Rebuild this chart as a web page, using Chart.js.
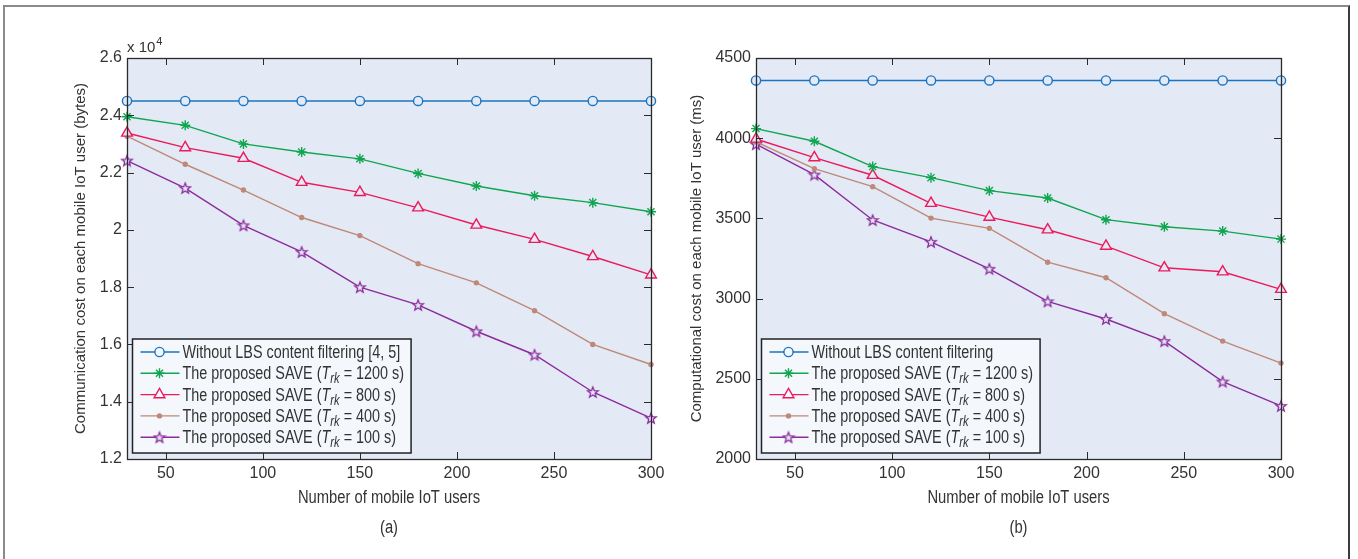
<!DOCTYPE html>
<html>
<head>
<meta charset="utf-8">
<script src="https://cdn.jsdelivr.net/npm/chart.js@4.4.1/dist/chart.umd.min.js"></script>
<style>
    body { margin: 0; background: #fff; }
    #wrap { position: relative; width: 1358px; height: 559px; overflow: hidden; background: #fff; }
    #frame {
        position: absolute; left: 3px; top: 5px; width: 1343px; height: 620px;
        border-left: 2px solid #8a8a8a; border-top: 2px solid #8a8a8a; border-right: 2px solid #3c3c3c;
    }
    #chartA { position: absolute; left: 0; top: 0; }
    #chartB { position: absolute; left: 680px; top: 0; }
</style>
</head>
<body>
<div id="wrap">
    <div id="frame"></div>
    <canvas id="chartA" width="680" height="559"></canvas>
    <canvas id="chartB" width="678" height="559"></canvas>
</div>
<script>
// x축: 모바일 IoT 사용자 수
const xValues = [30, 60, 90, 120, 150, 180, 210, 240, 270, 300];
const xTicks = [50, 100, 150, 200, 250, 300];

// (a) 통신 비용 (x 10^4 bytes)
const commTicks = [1.2, 1.4, 1.6, 1.8, 2.0, 2.2, 2.4, 2.6];
const commNoFilter = [2.45, 2.45, 2.45, 2.45, 2.45, 2.45, 2.45, 2.45, 2.45, 2.45];
const commSave1200 = [2.395, 2.365, 2.3, 2.272, 2.248, 2.197, 2.153, 2.119, 2.095, 2.063];
const commSave800 = [2.338, 2.287, 2.25, 2.166, 2.131, 2.077, 2.017, 1.967, 1.907, 1.843];
const commSave400 = [2.327, 2.229, 2.139, 2.043, 1.98, 1.882, 1.815, 1.718, 1.6, 1.53];
const commSave100 = [2.242, 2.146, 2.016, 1.923, 1.8, 1.738, 1.646, 1.564, 1.434, 1.343];

// (b) 계산 비용 (ms)
const compTicks = [2000, 2500, 3000, 3500, 4000, 4500];
const compNoFilter = [4360, 4360, 4360, 4360, 4360, 4360, 4360, 4360, 4360, 4360];
const compSave1200 = [4060, 3981, 3823, 3754, 3673, 3627, 3492, 3448, 3421, 3371];
const compSave800 = [3995, 3879, 3769, 3594, 3508, 3429, 3327, 3192, 3167, 3058];
const compSave400 = [3977, 3810, 3698, 3502, 3438, 3227, 3130, 2906, 2735, 2598];
const compSave100 = [3963, 3773, 3490, 3354, 3186, 2983, 2873, 2735, 2483, 2331];

const trkValues = [1200, 800, 400, 100];
const labelsA = ['Without LBS content filtering [4, 5]'].concat(trkValues.map((t) => 'The proposed SAVE (T_rk = ' + t + ' s)'));
const labelsB = ['Without LBS content filtering'].concat(trkValues.map((t) => 'The proposed SAVE (T_rk = ' + t + ' s)'));

const FONT = "'Liberation Sans', Arial, sans-serif";
const NARROW_LEGEND = 0.8;
const NARROW_TITLE = 0.82;
const PLOT_BG = '#e3eaf5';
const LEGEND_BG = '#f4f7fb';
const TEXT = '#333';

// 보라색 별 마커 (5각 별)
function makeStar(color, fill) {
    const c = document.createElement('canvas');
    c.width = 14;
    c.height = 14;
    const g = c.getContext('2d');
    g.beginPath();
    for (let i = 0; i < 10; i++) {
        const r = i % 2 === 0 ? 5.6 : 2.4;
        const a = -Math.PI / 2 + (i * Math.PI) / 5;
        const px = 7 + r * Math.cos(a);
        const py = 7.6 + r * Math.sin(a);
        if (i === 0) g.moveTo(px, py);
        else g.lineTo(px, py);
    }
    g.closePath();
    g.fillStyle = fill;
    g.fill();
    g.lineWidth = 1.3;
    g.strokeStyle = color;
    g.stroke();
    return c;
}

const seriesStyle = [
    { color: '#1a74c2', point: 'circle', radius: 4.6, fill: PLOT_BG },
    { color: '#10a54f', point: 'star', radius: 5, fill: PLOT_BG },
    { color: '#ec1a5c', point: 'triangle', radius: 6.2, fill: PLOT_BG },
    { color: '#bf8878', point: 'circle', radius: 2, fill: '#bf8878' },
    { color: '#8c2b9c', point: makeStar('#8c2b9c', PLOT_BG), radius: 6, fill: PLOT_BG },
];

function makeDatasets(series, labels) {
    return series.map((vals, i) => ({
        label: labels[i],
        data: vals.map((v, j) => ({ x: xValues[j], y: v })),
        borderColor: seriesStyle[i].color,
        backgroundColor: seriesStyle[i].color,
        borderWidth: 1.4,
        pointStyle: seriesStyle[i].point,
        pointRadius: seriesStyle[i].radius,
        pointBorderWidth: 1.4,
        pointBorderColor: seriesStyle[i].color,
        pointBackgroundColor: seriesStyle[i].fill,
        tension: 0,
        clip: false,
    }));
}

// 첨자가 들어간 글자 (T_rk)
function segsFor(label) {
    const parts = label.split('T_rk');
    if (parts.length < 2) return [{ text: label }];
    return [
        { text: parts[0] },
        { text: 'T', italic: true },
        { text: 'rk', italic: true, sub: true },
        { text: parts[1] },
    ];
}

function segFont(s, size) {
    return (s.italic ? 'italic ' : '') + (s.sub ? Math.round(size * 0.8) : size) + 'px ' + FONT;
}

function richWidth(ctx, segs, size, narrow) {
    let w = 0;
    segs.forEach((s) => {
        ctx.font = segFont(s, size);
        w += ctx.measureText(s.text).width;
    });
    return w * narrow;
}

function drawRich(ctx, segs, x, y, size, narrow) {
    ctx.save();
    ctx.translate(x, y);
    ctx.scale(narrow, 1);
    ctx.textAlign = 'left';
    ctx.textBaseline = 'alphabetic';
    ctx.fillStyle = TEXT;
    let cx = 0;
    segs.forEach((s) => {
        ctx.font = segFont(s, size);
        ctx.fillText(s.text, cx, s.sub ? 4 : 0);
        cx += ctx.measureText(s.text).width;
    });
    ctx.restore();
}

const sketchPlugin = {
    id: 'sketch',
    beforeDraw(chart) {
        const a = chart.chartArea;
        const ctx = chart.ctx;
        ctx.save();
        ctx.fillStyle = PLOT_BG;
        ctx.fillRect(a.left, a.top, a.right - a.left, a.bottom - a.top);
        ctx.restore();
    },
    afterDatasetsDraw(chart) {
        const a = chart.chartArea;
        const ctx = chart.ctx;
        const xs = chart.scales.x;
        const ys = chart.scales.y;
        ctx.save();
        ctx.strokeStyle = '#2a2a2a';
        ctx.lineWidth = 1;
        ctx.beginPath();
        xs.ticks.forEach((t) => {
            const px = Math.round(xs.getPixelForValue(t.value)) + 0.5;
            ctx.moveTo(px, a.top);
            ctx.lineTo(px, a.top + 7);
            ctx.moveTo(px, a.bottom);
            ctx.lineTo(px, a.bottom - 7);
        });
        ys.ticks.forEach((t) => {
            const py = Math.round(ys.getPixelForValue(t.value)) + 0.5;
            ctx.moveTo(a.left, py);
            ctx.lineTo(a.left + 7, py);
            ctx.moveTo(a.right, py);
            ctx.lineTo(a.right - 7, py);
        });
        ctx.stroke();
        ctx.lineWidth = 1.3;
        ctx.strokeRect(Math.round(a.left) + 0.5, Math.round(a.top) + 0.5, Math.round(a.right - a.left), Math.round(a.bottom - a.top));
        ctx.restore();
    },
    afterDraw(chart, args, opts) {
        const a = chart.chartArea;
        const ctx = chart.ctx;
        const cx = (a.left + a.right) / 2;

        // 범례
        const size = 18;
        const rowH = 21.3;
        const sets = chart.data.datasets;
        let maxW = 0;
        sets.forEach((ds) => { maxW = Math.max(maxW, richWidth(ctx, segsFor(ds.label), size, NARROW_LEGEND)); });
        const bx = a.left + 5.5;
        const bh = 114;
        const by = a.bottom - 6 - bh;
        const bw = 50 + maxW + 7;
        ctx.save();
        ctx.fillStyle = LEGEND_BG;
        ctx.fillRect(bx, by, bw, bh);
        ctx.strokeStyle = '#222';
        ctx.lineWidth = 1.5;
        ctx.strokeRect(bx, by, bw, bh);
        sets.forEach((ds, i) => {
            const ry = by + 13 + i * rowH;
            ctx.strokeStyle = ds.borderColor;
            ctx.lineWidth = ds.borderWidth;
            ctx.beginPath();
            ctx.moveTo(bx + 8, ry);
            ctx.lineTo(bx + 47, ry);
            ctx.stroke();
            ctx.fillStyle = ds.pointBackgroundColor === PLOT_BG ? LEGEND_BG : ds.pointBackgroundColor;
            ctx.strokeStyle = ds.pointBorderColor;
            ctx.lineWidth = ds.pointBorderWidth;
            Chart.helpers.drawPoint(ctx, {
                pointStyle: ds.pointStyle,
                rotation: 0,
                radius: ds.pointRadius,
                borderWidth: ds.pointBorderWidth,
            }, bx + 27, ry);
            drawRich(ctx, segsFor(ds.label), bx + 50, ry + 6, size, NARROW_LEGEND);
        });
        ctx.restore();

        // x축 제목, 패널 표시
        const xt = [{ text: 'Number of mobile IoT users' }];
        drawRich(ctx, xt, cx - richWidth(ctx, xt, 18, NARROW_TITLE) / 2, 503, 18, NARROW_TITLE);
        const pt = [{ text: opts.panel }];
        drawRich(ctx, pt, cx - richWidth(ctx, pt, 18, NARROW_TITLE) / 2, 533, 18, NARROW_TITLE);

        // y축 제목
        ctx.save();
        ctx.translate(opts.yTitleX, (a.top + a.bottom) / 2);
        ctx.rotate(-Math.PI / 2);
        ctx.font = '15px ' + FONT;
        ctx.fillStyle = TEXT;
        ctx.textAlign = 'center';
        ctx.textBaseline = 'middle';
        ctx.fillText(opts.yTitle, 0, 0);
        ctx.restore();

        // 지수 표시 x 10^4
        if (opts.exponent) {
            ctx.save();
            ctx.fillStyle = TEXT;
            ctx.textBaseline = 'alphabetic';
            ctx.textAlign = 'left';
            ctx.font = '15px ' + FONT;
            ctx.fillText('x 10', a.left, 52);
            const w = ctx.measureText('x 10').width;
            ctx.font = '11px ' + FONT;
            ctx.fillText(String(opts.exponent), a.left + w + 1, 45);
            ctx.restore();
        }
    },
};

Chart.defaults.font.family = FONT;
Chart.defaults.color = TEXT;

function makeChart(canvasId, series, labels, yTicks, cfg) {
    const ctx = document.getElementById(canvasId).getContext('2d');
    return new Chart(ctx, {
        type: 'line',
        data: { datasets: makeDatasets(series, labels) },
        plugins: [sketchPlugin],
        options: {
            responsive: false,
            animation: false,
            layout: { padding: { left: 0, top: 58, right: cfg.rightPad, bottom: 0 } },
            plugins: {
                legend: { display: false },
                tooltip: { enabled: false },
                sketch: cfg.sketch,
            },
            scales: {
                x: {
                    type: 'linear',
                    min: 30,
                    max: 300,
                    afterBuildTicks: (s) => { s.ticks = xTicks.map((v) => ({ value: v })); },
                    afterFit: (s) => { s.height = 100; },
                    grid: { display: false, drawTicks: false },
                    border: { display: false },
                    ticks: { padding: 5, autoSkip: false, maxRotation: 0, color: TEXT, font: { size: 16 } },
                },
                y: {
                    type: 'linear',
                    min: yTicks[0],
                    max: yTicks[yTicks.length - 1],
                    afterBuildTicks: (s) => { s.ticks = yTicks.map((v) => ({ value: v })); },
                    afterFit: (s) => { s.width = cfg.yWidth; },
                    grid: { display: false, drawTicks: false },
                    border: { display: false },
                    ticks: {
                        padding: 5,
                        color: TEXT,
                        font: { size: 16 },
                        callback: (v) => String(Math.round(v * 10) / 10),
                    },
                },
            },
        },
    });
}

makeChart('chartA',
    [commNoFilter, commSave1200, commSave800, commSave400, commSave100],
    labelsA, commTicks,
    {
        rightPad: 29,
        yWidth: 127,
        sketch: { panel: '(a)', yTitle: 'Communication cost on each mobile IoT user (bytes)', yTitleX: 81, exponent: 4 },
    });

makeChart('chartB',
    [compNoFilter, compSave1200, compSave800, compSave400, compSave100],
    labelsB, compTicks,
    {
        rightPad: 77,
        yWidth: 76,
        sketch: { panel: '(b)', yTitle: 'Computational cost on each mobile IoT user (ms)', yTitleX: 17 },
    });
</script>
</body>
</html>
